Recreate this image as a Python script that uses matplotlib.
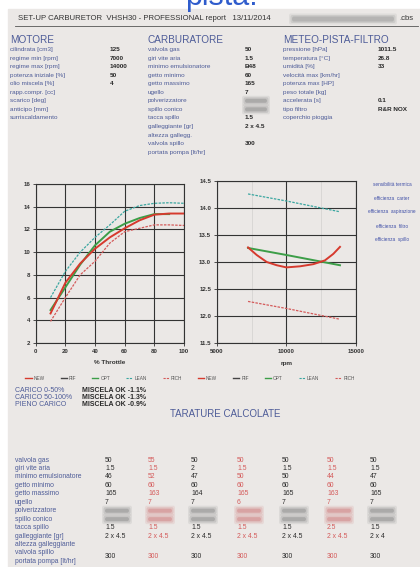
import matplotlib
matplotlib.use("Agg")
import matplotlib.pyplot as plt
from matplotlib.lines import Line2D
from matplotlib.patches import Rectangle, FancyBboxPatch

plt.rcParams['font.family'] = ['Liberation Sans', 'DejaVu Sans']

W, H = 420, 567

# ---- dati ----
throttle = [10, 20, 30, 40, 50, 60, 70, 80, 90, 100]
new_thr = [4.6, 7.3, 9.0, 10.3, 11.3, 12.1, 12.8, 13.3, 13.4, 13.4]
opt_thr = [4.9, 6.9, 8.9, 10.6, 11.8, 12.5, 13.0, 13.35, 13.35]
lean_thr = [6.0, 8.3, 10.0, 11.3, 12.4, 13.6, 14.1, 14.3, 14.35, 14.3]
rich_thr = [3.9, 6.0, 8.0, 9.2, 10.8, 11.8, 12.1, 12.4, 12.4, 12.35]

rpm_new = [7250, 7870, 8590, 9310, 10000, 10980, 11940, 12770, 13370, 13850]
new_rpm = [13.27, 13.13, 13.0, 12.94, 12.90, 12.92, 12.96, 13.03, 13.15, 13.28]
rpm_pts = [7250, 10000, 13850]
opt_rpm = [13.26, 13.13, 12.94]
lean_rpm = [14.26, 14.13, 13.93]
rich_rpm = [12.27, 12.14, 11.94]

motore = [("cilindrata [cm3]", "125"), ("regime min [rpm]", "7000"),
          ("regime max [rpm]", "14000"), ("potenza iniziale [%]", "50"),
          ("olio miscela [%]", "4"), ("rapp.compr. [cc]", ""),
          ("scarico [deg]", ""), ("anticipo [mm]", ""), ("surriscaldamento", "")]
carburatore = [("valvola gas", "50"), ("giri vite aria", "1.5"),
               ("minimo emulsionatore", "B48"), ("getto minimo", "60"),
               ("getto massimo", "165"), ("ugello", "7"), ("polverizzatore", None),
               ("spillo conico", None), ("tacca spillo", "1.5"),
               ("galleggiante [gr]", "2 x 4.5"), ("altezza gallegg.", ""),
               ("valvola spillo", "300"), ("portata pompa [lt/hr]", "")]
meteo = [("pressione [hPa]", "1011.5"), ("temperatura [°C]", "26.8"),
         ("umidità [%]", "33"), ("velocità max [km/hr]", ""),
         ("potenza max [HP]", ""), ("peso totale [kg]", ""),
         ("accelerata [s]", "0.1"), ("tipo filtro", "R&R NOX"),
         ("coperchio pioggia", "")]

efficienze = ["sensibilità termica", "efficienza  carter", "efficienza  aspirazione",
              "efficienza  filtro", "efficienza  spillo"]

carico = [("CARICO 0-50%", "MISCELA OK -1.1%"), ("CARICO 50-100%", "MISCELA OK -1.3%"),
          ("PIENO CARICO", "MISCELA OK -0.9%")]

tar_labels = ["valvola gas", "giri vite aria", "minimo emulsionatore", "getto minimo",
              "getto massimo", "ugello", "polverizzatore", "spillo conico",
              "tacca spillo", "galleggiante [gr]", "altezza galleggiante",
              "valvola spillo", "portata pompa [lt/hr]"]
tar_values = [
    ["50", "55", "50", "50", "50", "50", "50"],
    ["1.5", "1.5", "2", "1.5", "1.5", "1.5", "1.5"],
    ["46", "52", "47", "50", "50", "44", "47"],
    ["60", "60", "60", "60", "60", "60", "60"],
    ["165", "163", "164", "165", "165", "163", "165"],
    ["7", "7", "7", "6", "7", "7", "7"],
    [None] * 7,
    [None] * 7,
    ["1.5", "1.5", "1.5", "1.5", "1.5", "2.5", "1.5"],
    ["2 x 4.5", "2 x 4.5", "2 x 4.5", "2 x 4.5", "2 x 4.5", "2 x 4.5", "2 x 4"],
    [""] * 7,
    ["300", "300", "300", "300", "300", "300", "300"],
    [""] * 7,
]

legend_names = ["NEW", "RIF", "OPT", "LEAN", "RICH"]

# ---- colori ----
paper = "#ebe8e6"
blu = "#4e5c98"
nero = "#2a2a2a"
rosso = "#d63a2e"
verde = "#3c9e48"
teal = "#3aa6a0"
rosso_tr = "#d45a5a"
griglia = "#333333"

fig = plt.figure(figsize=(W / 100, H / 100), dpi=100)
fig.patch.set_facecolor("white")


def fx(x):
    return x / W


def fy(y):
    return 1 - y / H


def txt(x, y, s, **kw):
    kw.setdefault("va", "center")
    kw.setdefault("fontsize", 4.6)
    fig.text(fx(x), fy(y), s, **kw)


def blur(x, y, w, h, col="#8a8a8a"):
    # zona sfocata nella foto (valori oscurati)
    for k, a in [(3, 0.15), (1.5, 0.25), (0, 0.45)]:
        fig.patches.append(FancyBboxPatch((fx(x - k), fy(y + h / 2 + k)),
                                          (w + 2 * k) / W, (h + 2 * k) / H,
                                          boxstyle="round,pad=0,rounding_size=0.004",
                                          transform=fig.transFigure, color=col,
                                          alpha=a, lw=0))


# carta
fig.patches.append(Rectangle((fx(8), 0), 1 - fx(8), fy(9), transform=fig.transFigure,
                             color=paper, zorder=-10))

# titolo tagliato in alto (come nella foto)
txt(221, 5, "pista.", fontsize=22, color="#2f5ccc", ha="center", va="baseline")

# intestazione
txt(18, 19, "SET-UP CARBURETOR  VHSH30 - PROFESSIONAL report   13/11/2014",
    fontsize=5.6, color="#333333")
blur(292, 19, 102, 5, "#9a9a9a")
txt(399, 19, ".cbs", fontsize=5.6, color="#333333")
fig.add_artist(Line2D([fx(15), fx(418)], [fy(26), fy(26)], color="#555555", lw=0.6))

# sezioni
for x0, xv, title, rows in [(10, 110, "MOTORE", motore),
                            (148, 245, "CARBURATORE", carburatore),
                            (283, 378, "METEO-PISTA-FILTRO", meteo)]:
    txt(x0, 40, title, fontsize=7.2, color=blu)
    for i, (lab, val) in enumerate(rows):
        y = 49.5 + i * 8.55
        txt(x0, y, lab, color=blu)
        if val is None:
            blur(xv, y, 22, 4)
        elif val:
            txt(xv, y, val, color=nero, fontweight="bold")

# grafico a sinistra: % throttle
ax1 = fig.add_axes([fx(35.7), fy(343), (184 - 35.7) / W, (343 - 184) / H])
ax1.set_facecolor("none")
ax1.plot(throttle, lean_thr, color=teal, lw=0.9, ls=(0, (2, 1)))
ax1.plot(throttle, rich_thr, color=rosso_tr, lw=0.9, ls=(0, (2, 1)))
ax1.plot(throttle[:len(opt_thr)], opt_thr, color=verde, lw=1.4)
ax1.plot(throttle, new_thr, color=rosso, lw=1.4)
ax1.set_xlim(0, 100)
ax1.set_ylim(2, 16)
ax1.set_xticks(range(0, 101, 20))
ax1.set_yticks(range(2, 17, 2))
ax1.set_xlabel("% Throttle", fontsize=4.6, fontweight="bold", color="#333333", labelpad=5)

# grafico a destra: rpm
ax2 = fig.add_axes([fx(216.7), fy(343), (356 - 216.7) / W, (343 - 181) / H])
ax2.set_facecolor("none")
ax2.plot(rpm_pts, lean_rpm, color=teal, lw=0.9, ls=(0, (2, 1)))
ax2.plot(rpm_pts, rich_rpm, color=rosso_tr, lw=0.9, ls=(0, (2, 1)))
ax2.plot(rpm_pts, opt_rpm, color=verde, lw=1.4)
ax2.plot(rpm_new, new_rpm, color=rosso, lw=1.4)
ax2.set_xlim(5000, 15000)
ax2.set_ylim(11.5, 14.5)
ax2.set_xticks([5000, 10000, 15000])
ax2.set_xticks([7500, 12500], minor=True)
ax2.set_yticks([11.5, 12.0, 12.5, 13.0, 13.5, 14.0, 14.5])
ax2.yaxis.set_major_formatter("{x:.1f}")
ax2.set_xlabel("rpm", fontsize=4.6, fontweight="bold", color="#333333", labelpad=5)
ax2.grid(which="minor", axis="x", color="#d6d4d2", lw=0.6)

for ax in (ax1, ax2):
    ax.grid(which="major", color=griglia, lw=0.8)
    ax.set_axisbelow(True)
    for s in ax.spines.values():
        s.set_color(griglia)
        s.set_linewidth(0.8)
    ax.tick_params(which="major", labelsize=4.4, colors="#333333", length=2, width=0.6, pad=2)
    ax.tick_params(which="minor", length=0)
    for t in ax.get_xticklabels() + ax.get_yticklabels():
        t.set_fontweight("bold")

# etichette efficienze
for i, s in enumerate(efficienze):
    txt(392, 184 + i * 14, s, fontsize=3.4, color="#4050a8", ha="center")

# legenda comune
styles = [dict(color=rosso, lw=1.0), dict(color="#444444", lw=1.0),
          dict(color=verde, lw=1.0), dict(color=teal, lw=0.8, ls=(0, (2, 1))),
          dict(color=rosso_tr, lw=0.8, ls=(0, (2, 1)))]
handles = [Line2D([], [], **st) for st in styles] * 2
fig.legend(handles, legend_names * 2, loc="center", bbox_to_anchor=(fx(190), fy(378)),
           ncol=10, frameon=False, fontsize=3.4, handlelength=1.3, handletextpad=0.4,
           columnspacing=3.4, labelcolor="#555555")

# carico
for i, (a, b) in enumerate(carico):
    y = 390 + i * 7.5
    txt(15, y, a, fontsize=5.0, color=blu)
    txt(82, y, b, fontsize=5.0, color=nero, fontweight="bold")

txt(225, 414, "TARATURE CALCOLATE", fontsize=7.0, color=blu, ha="center")

# tabella tarature
col_x = [105, 148, 191, 237, 282, 327, 370]
for i, lab in enumerate(tar_labels):
    y = 460 + i * 8.45
    txt(15, y, lab, fontsize=4.9, color=blu)
    for j, val in enumerate(tar_values[i]):
        col = rosso_tr if j % 2 == 1 else nero
        if val is None:
            blur(col_x[j], y, 24, 4, "#d08080" if j % 2 == 1 else "#8a8a8a")
        elif val:
            yy = y + 4 if lab == "valvola spillo" else y
            txt(col_x[j], yy, val, fontsize=4.9, color=col)

fig.savefig("out.png", dpi=100, facecolor=fig.get_facecolor())
